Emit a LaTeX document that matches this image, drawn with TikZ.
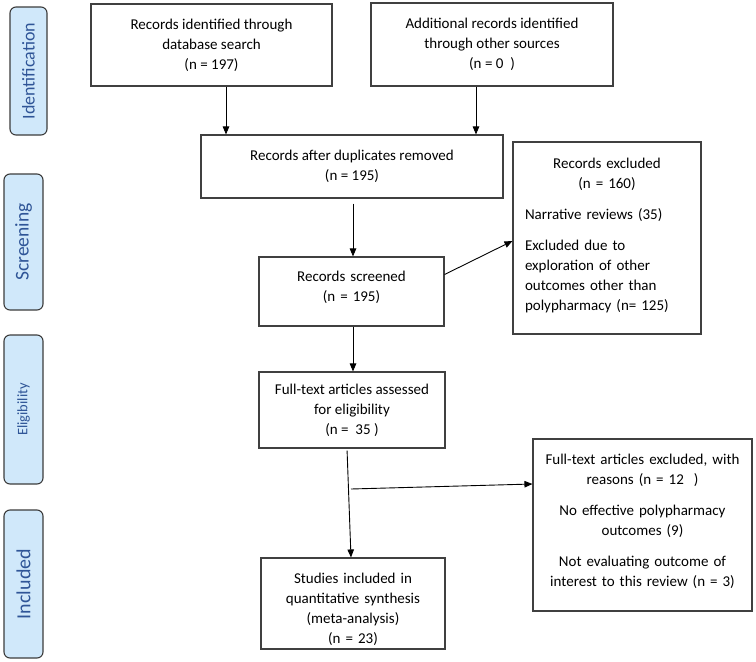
\documentclass[tikz,border=0pt]{standalone}
\usepackage{fontspec}
\setmainfont{Carlito}
\usetikzlibrary{arrows.meta}
\definecolor{sidefill}{HTML}{D0E8FA}
\definecolor{sidetext}{HTML}{2F5597}
\definecolor{sideline}{HTML}{3C3C3C}
\definecolor{boxline}{HTML}{404040}
\begin{document}
\begin{tikzpicture}[x=1pt,y=-1pt,
  box/.style={draw=boxline, line width=1.1pt, inner sep=0pt, align=center, font=\fontsize{15}{20}\selectfont},
  side/.style={draw=sideline, line width=1.1pt, fill=sidefill, rounded corners=6pt, text=sidetext, rotate=90, inner sep=0pt},
  arr/.style={-{Triangle[length=8pt,width=6.5pt]}, line width=0.9pt, black}]
\useasboundingbox (0,0) rectangle (756,662);

% side labels
\node[side, minimum width=128, minimum height=37, font=\fontsize{18}{20}\selectfont] (sid) at (28.5,71) {Identification};
\node[side, minimum width=136, minimum height=39, font=\fontsize{19.5}{20}\selectfont] (ssc) at (23.5,242) {Screening};
\node[side, minimum width=149, minimum height=39, font=\fontsize{14.5}{20}\selectfont] (sel) at (23.5,409.5) {Eligibility};
\node[side, minimum width=148, minimum height=39, font=\fontsize{20}{20}\selectfont] (sin) at (23.5,584) {Included};

% boxes
\node[box, minimum width=241, minimum height=82] (b1) at (211.5,45) {Records identified through\\database search\\(n = 197)};
\node[box, minimum width=242, minimum height=83] (b2) at (492,44.5) {Additional records identified\\through other sources\\(n = 0\ \ )};
\node[box, minimum width=302, minimum height=63] (b3) at (352,166.5) {Records after duplicates removed\\(n = 195)};
\node[box, minimum width=185, minimum height=69, text width=180] (b4) at (351.5,291.5) {Records screened\\(n = 195)\par\kern8pt};
\node[box, minimum width=188, minimum height=192, text width=164, align=left] (exc) at (607,238)
  {{\centering Records excluded\\(n = 160)\par}\vspace{11pt}%
   Narrative reviews (35)\par\vspace{11pt}%
   Excluded due to\\exploration of other\\outcomes other than\\polypharmacy (n= 125)\par\kern6pt};
\node[box, minimum width=186, minimum height=76] (b5) at (352,410) {Full-text articles assessed\\for eligibility\\(n = \ 35 )};
\node[box, minimum width=184, minimum height=91, text width=180] (b6) at (353,603.5) {Studies included in\\quantitative synthesis\\(meta-analysis)\\(n = 23)\par\kern-12pt};
\node[box, minimum width=219, minimum height=172, text width=212] (b7) at (642.5,525)
  {Full-text articles excluded, with\\reasons (n = 12\ \ )\par\vspace{11pt}%
   No effective polypharmacy\\outcomes (9)\par\vspace{11pt}%
   Not evaluating outcome of\\interest to this review (n = 3)\par\kern8pt};

% connectors
\draw[arr] ([xshift=14.5pt]b1.south) -- ([xshift=14.5pt]b1.south |- b3.north);
\draw[arr] ([xshift=-16pt]b2.south) -- ([xshift=-16pt]b2.south |- b3.north);
\draw[arr, shorten <=5pt] ([xshift=1pt]b3.south) -- ([xshift=1pt]b3.south |- b4.north);
\draw[arr] ([yshift=17pt]b4.east) -- ([yshift=-3pt]exc.west);
\draw[arr] ([xshift=1.5pt]b4.south) -- ([xshift=1.5pt]b4.south |- b5.north);
\draw[arr, shorten <=2pt] ([xshift=-5pt]b5.south) -- ([xshift=-2pt]b6.north);
\coordinate (mid) at (351,489);
\draw[arr] (mid) -- ([yshift=41pt]b7.west);
\end{tikzpicture}
\end{document}
